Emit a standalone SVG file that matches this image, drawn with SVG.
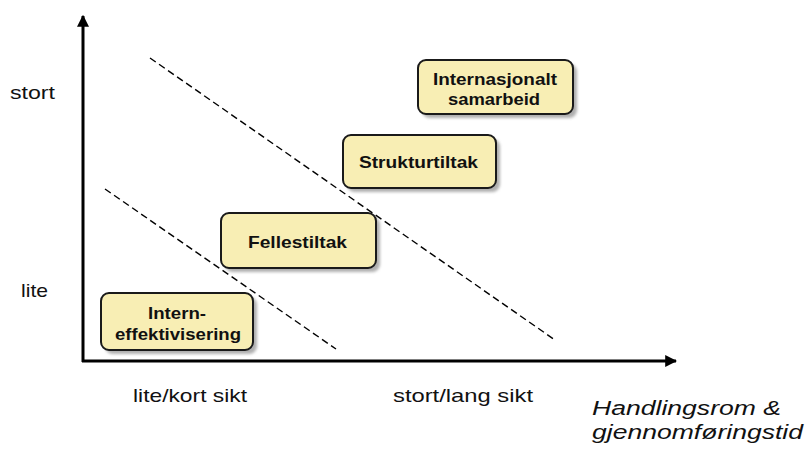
<svg xmlns="http://www.w3.org/2000/svg" width="808" height="452" viewBox="0 0 808 452">
<defs>
<style>
.box{fill:#f8eeb4;stroke:#1a1a1a;stroke-width:2}
.shadow{fill:#7a7a7a;opacity:0.6}
.bt{font-family:"Liberation Sans",Arial,sans-serif;font-size:17px;font-weight:bold;fill:#111}
.lbl{font-family:"Liberation Sans",Arial,sans-serif;font-size:19px;fill:#111}
.ital{font-family:"Liberation Sans",Arial,sans-serif;font-size:20px;font-style:italic;fill:#111}
.axis{stroke:#000;stroke-width:3;fill:none}
.dash{stroke:#000;stroke-width:1.4;stroke-dasharray:7 4;fill:none}
</style>
<filter id="blur" x="-10%" y="-10%" width="130%" height="140%"><feGaussianBlur stdDeviation="1.5"/></filter>
<marker id="ah" viewBox="0 0 10 10" refX="9" refY="5" markerWidth="4" markerHeight="4" markerUnits="strokeWidth" orient="auto"><path d="M0,0 L10,5 L0,10 Z" fill="#000"/></marker>
</defs>
<g id="connectors">
<line class="axis" x1="83" y1="362" x2="83" y2="16" marker-end="url(#ah)"/>
<line class="axis" x1="82" y1="361" x2="676" y2="361" marker-end="url(#ah)"/>
<line class="dash" x1="150" y1="58" x2="555" y2="340"/>
<line class="dash" x1="105" y1="189" x2="336" y2="349"/>
</g>
<g id="labels">
<text class="lbl" x="10" y="99" textLength="45" lengthAdjust="spacingAndGlyphs">stort</text>
<text class="lbl" x="21" y="297" textLength="27" lengthAdjust="spacingAndGlyphs">lite</text>
<text class="lbl" x="133" y="402" textLength="114" lengthAdjust="spacingAndGlyphs">lite/kort sikt</text>
<text class="lbl" x="393" y="402" textLength="140" lengthAdjust="spacingAndGlyphs">stort/lang sikt</text>
<text class="ital" x="592" y="415" textLength="189" lengthAdjust="spacingAndGlyphs">Handlingsrom &amp;</text>
<text class="ital" x="592" y="439" textLength="211" lengthAdjust="spacingAndGlyphs">gjennomføringstid</text>
</g>
<g id="node-internasjonalt">
<rect class="shadow" x="422" y="64" width="155" height="54" rx="8" filter="url(#blur)"/>
<rect class="box" x="418" y="60" width="155" height="54" rx="8"/>
<text class="bt" x="433" y="85" textLength="124" lengthAdjust="spacingAndGlyphs">Internasjonalt</text>
<text class="bt" x="448" y="105" textLength="92" lengthAdjust="spacingAndGlyphs">samarbeid</text>
</g>
<g id="node-strukturtiltak">
<rect class="shadow" x="347" y="139" width="153" height="53" rx="8" filter="url(#blur)"/>
<rect class="box" x="343" y="135" width="153" height="53" rx="8"/>
<text class="bt" x="359" y="168" textLength="119" lengthAdjust="spacingAndGlyphs">Strukturtiltak</text>
</g>
<g id="node-fellestiltak">
<rect class="shadow" x="225" y="217" width="155" height="55" rx="8" filter="url(#blur)"/>
<rect class="box" x="221" y="213" width="155" height="55" rx="8"/>
<text class="bt" x="248" y="248" textLength="99" lengthAdjust="spacingAndGlyphs">Fellestiltak</text>
</g>
<g id="node-intern">
<rect class="shadow" x="105" y="297" width="152" height="57" rx="8" filter="url(#blur)"/>
<rect class="box" x="101" y="293" width="152" height="57" rx="8"/>
<text class="bt" x="148" y="319" textLength="58" lengthAdjust="spacingAndGlyphs">Intern-</text>
<text class="bt" x="115" y="340" textLength="126" lengthAdjust="spacingAndGlyphs">effektivisering</text>
</g>
</svg>
